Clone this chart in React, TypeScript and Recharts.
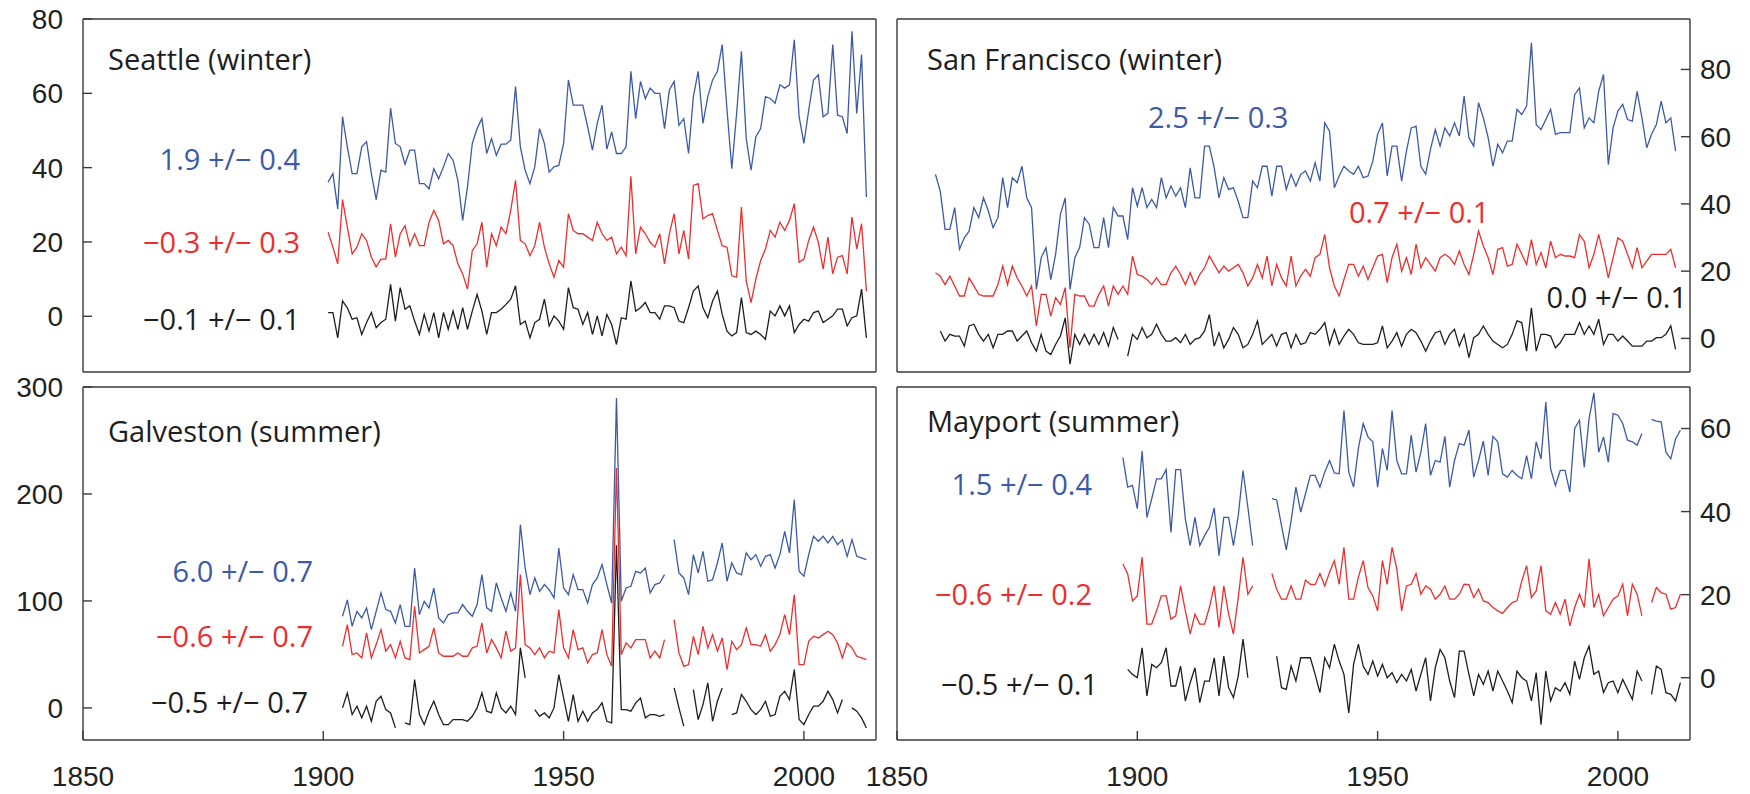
import { LineChart, Line, XAxis, YAxis } from "recharts";

const BLUE = "#3c5aa8";
const RED = "#ee2d2d";
const BLACK = "#1e1e1e";
const FRAME = "#3a3a3a";
const FONT = "'Open Sans', sans-serif";
const TICK_FONT = "'Liberation Sans', Arial, sans-serif";

const yearTicks = [1850, 1900, 1950, 2000];

// Seattle (winter), 1901-2013
const seattleStart = 1901;
const seattleBlue = [
  36.1, 38.4, 28.9, 53.7, 45.6, 38.4, 38.4, 45.6, 47, 38.4,
  31.4, 39.3, 38.8, 56, 46.5, 45.6, 40.9, 44.7, 44.7, 35.7,
  35.7, 34.3, 39.7, 37, 40.2, 43.8, 42, 36.6, 25.8, 34.8,
  46.5, 50.5, 53.2, 43.8, 47.8, 43.3, 46.3, 46.3, 47.4, 61.8,
  45.6, 39.3, 35.7, 40.2, 50.5, 46.5, 38.8, 40.2, 40.6, 46.5,
  63.6, 56.8, 56.8, 56.8, 51, 44.7, 51.9, 56.8, 45, 49.6,
  43.8, 43.8, 45.6, 65.9, 53.2, 63.2, 58.6, 61.4, 60, 60,
  50.5, 60.9, 63.2, 51.4, 53.2, 43.8, 59.1, 65.9, 51.9, 59.1,
  63.6, 65.9, 73.1, 55.5, 39.7, 54.6, 71.3, 47.8, 39.3, 48.3,
  50.5, 59.1, 58.6, 57.3, 62.3, 61.4, 62.3, 74.4, 53.7, 46.5,
  55.5, 63.6, 65, 53.7, 54.6, 73.1, 54.1, 53.7, 49.2, 76.7,
  54.6, 70.4, 32.1,
];
const seattleRed = [
  22.6, 18.6, 14.1, 31.4, 24, 16.8, 18.6, 22.2, 20.4, 15.9,
  13.3, 15.4, 15.4, 24.9, 15.9, 22.2, 24.4, 19, 22.2, 19,
  19, 25.3, 28.5, 25.8, 19.5, 20.4, 19, 14.1, 11.4, 7.3,
  17.7, 19.5, 25.3, 13.2, 22.2, 19, 24, 22.2, 28.5, 36.6,
  20.4, 19.5, 16.3, 19, 25.3, 18.6, 14.1, 10.5, 15, 13.2,
  27.6, 23.1, 22.2, 22.2, 21.3, 20.4, 25.3, 22.2, 20.4, 21.3,
  16.8, 18.6, 16.3, 37.7, 16.8, 24, 22.2, 19.9, 18.6, 22.2,
  14.1, 22.2, 27.6, 16.8, 23.1, 15.4, 35.2, 35.7, 26.2, 27.1,
  27.6, 23.1, 19, 18.6, 10.9, 10.5, 29.4, 9.5, 3.7, 10,
  15, 18.1, 23.1, 21.3, 25.3, 23.1, 25.8, 30.3, 14.5, 15.4,
  20.4, 24, 19.9, 12.7, 21.3, 11.4, 15.9, 16.3, 11.4, 26.7,
  18.1, 24.9, 6.8,
];
const seattleBlack = [
  1, 1, -5.8, 4.1, 2.3, -0.8, -0.4, -4.9, -1.7, 1,
  -3.1, -1.7, -0.8, 8.6, -1.3, 7.7, 1.9, 2.8, -1.3, -4.9,
  0.5, -4, 1, -5.8, 1, -3.5, 1.4, -3.5, 2.3, -3.5,
  1.4, 5.9, 1.4, -4.9, 1, 1, 1.9, 3.2, 4.6, 8.2,
  -2.2, -1.3, -5.8, -1.7, -0.8, 4.6, -2.6, 0.1, -1.3, -3.5,
  7.7, 2.3, 1.9, -2.2, 1, -4.9, 0.1, -5.3, 0.5, -2.2,
  -7.6, -0.4, -0.8, 9.5, 1.4, 2.3, 3.7, 1, 1, -0.8,
  2.8, 2.8, 2.3, -1.3, -1.7, 2.3, 6.8, 8.2, 2.3, -0.4,
  4.1, 6.8, 0.5, -4, -5.3, -4.4, 5, -4.4, -4.9, -4,
  -4.9, -6.2, 1.4, 0.1, 2.8, 0.1, 2.8, -4.4, -2.2, -0.8,
  -1.3, 1, 1.4, -1.7, -0.8, 0.1, 1.9, 1.9, -2.6, -0.4,
  0.1, 7.3, -5.8,
];

// San Francisco (winter), blue/red from 1858, black from 1859
const sfStart = 1858;
const sfBlue = [
  48.8, 43.8, 32.4, 32.4, 38.9, 26.5, 29.9, 31.9, 38.9, 35.9,
  41.8, 37.9, 32.9, 35.9, 47.8, 38.9, 47.8, 46.3, 51.2, 41.8,
  38.9, 14.6, 24, 27, 17.5, 25, 36.9, 41.8, 14.6, 24,
  27, 35.9, 33.9, 27, 27, 35.9, 27, 38.9, 36.4, 36.4,
  29.4, 44.8, 39.3, 44.8, 38.9, 41.3, 38.9, 47.8, 41.8, 45.3,
  42.3, 44.8, 38.9, 50.7, 41.8, 41.8, 57.2, 57.2, 50.7, 41.8,
  47.8, 44.3, 44.8, 40.8, 35.9, 35.9, 46.8, 44.8, 51.2, 51.2,
  42.3, 51.2, 51.2, 44.3, 48.8, 45.3, 48.8, 49.8, 46.8, 52.2,
  46.8, 64.1, 61.6, 44.8, 48.3, 51.2, 49.8, 48.8, 51.2, 47.8,
  48.3, 52.7, 60.7, 64.1, 48.3, 57.2, 57.2, 46.8, 55.7, 62.6,
  63.1, 51.2, 48.8, 56.2, 62.1, 57.2, 62.6, 60.2, 64.1, 60.2,
  72.1, 59.7, 57.2, 70.1, 65.6, 59.7, 51.2, 57.7, 55.2, 58.7,
  58.7, 68.1, 66.6, 69.1, 87.9, 63.6, 62.1, 65.1, 68.1, 60.7,
  61.2, 61.2, 61.2, 72.5, 74.5, 62.6, 65.6, 64.1, 73.5, 78.5,
  51.7, 62.6, 67.6, 69.6, 65.1, 64.6, 73.5, 65.6, 56.7, 60.7,
  63.6, 70.6, 64.1, 65.6, 55.7,
];
const sfRed = [
  19.5, 18.5, 16, 18.5, 15.6, 12.6, 12.6, 18, 15.6, 13.1,
  12.6, 12.6, 12.6, 16, 21.5, 16, 21.5, 18, 15.6, 12.6,
  15.6, 3.7, 13.1, 13.1, 6.6, 12.1, 10.1, 15.1, -2.8, 13.1,
  12.6, 12.6, 9.6, 9.6, 13.1, 15.6, 9.6, 15.6, 13.1, 15.6,
  13.1, 24.5, 19, 18.5, 17.5, 16, 18, 16, 16, 19.5,
  21.5, 19, 16, 19.5, 16, 19, 21, 24.5, 22, 19.5,
  21.5, 20, 21, 22, 19.5, 15.6, 18, 22, 18, 24.5,
  15.6, 22, 18, 15.6, 24.5, 15.6, 18.5, 20.5, 18.5, 24,
  25, 30.9, 21, 15.6, 12.6, 17.5, 22, 22, 18.5, 21.5,
  17.5, 21, 24.5, 25, 16.6, 24, 28, 20, 24, 19,
  28, 21, 24, 22, 20, 24, 25, 24, 22, 26,
  22, 19, 25, 31.9, 27.5, 24, 19, 26.5, 27, 21.5,
  22, 28, 25, 22, 29.4, 22, 25.5, 21, 28.9, 24,
  25, 24.5, 24.5, 24, 30.9, 28.9, 21, 25, 30.9, 25,
  18, 24, 29.9, 28.9, 25, 21, 27, 21, 23, 25,
  25, 25, 25, 26.5, 21,
];
const sfBlackStart = 1859;
const sfBlack = [
  2.2, -0.8, 1.2, 0.7, 0.7, -2.3, 3.7, 4.2, 1.2, -0.8,
  1.2, -2.8, 1.2, 1.2, 2.2, 2.2, -0.8, 0.7, 2.2, -1.3,
  -3.8, 1.2, -3.8, -4.8, -1.8, 0.7, 6.1, -7.7, 1.2, -1.8,
  1.2, -1.8, 1.2, -1.8, 1.7, -2.3, 3.2, -0.3, null,
  -5.3, 1.2, -0.3, 3.2, 0.2, 1.2, 4.2, 1.2, -0.8, -0.8,
  0.2, -1.3, 1.2, -1.8, -0.3, 0.2, 2.2, 7.1, -2.3, 1.7,
  -2.8, -0.3, 3.2, 1.2, -2.8, -1.8, 1.2, 5.2, -1.8, -0.3,
  1.2, -2.3, 1.2, 1.7, -2.8, 1.2, -1.8, -1.3, 1.7, 1.2,
  2.7, 4.7, -1.8, 2.7, -1.8, 0.7, 2.7, 1.2, -1.3, -1.8,
  -1.8, -1.8, -1.3, 3.7, -2.8, -0.8, 1.7, -2.3, 1.2, 2.7,
  1.7, -0.8, -3.8, -0.8, 1.7, 2.2, -1.8, 1.2, 2.7, -2.3,
  1.2, -5.7, 0.2, 1.2, 3.7, 1.2, -0.8, -1.8, -2.8, -1.8,
  1.2, 5.2, 4.7, -3.8, 9.1, -3.8, 1.2, 1.2, 0.7, -2.8,
  -1.3, 1.2, 1.2, 1.2, 4.7, 1.2, 3.7, 1.2, 5.7, -1.8,
  1.2, 1.2, -0.8, 0.7, -0.8, -2.3, -2.3, -2.3, -0.8, -0.8,
  0.2, 0.2, 1.2, 3.7, -3.3,
];

// Galveston (summer), 1904-2013
const galvStart = 1904;
const galvBlue = [
  85.7, 101, 76.3, 90.3, 84.1, 93.5, 73.2,
  90.3, 107.5, 91.9, 90.3, 79.4, 96.6, 76.3, 76.3, 130.8, 87.2,
  99.7, 93.5, 112.1, 84.1, 79.4, 87.2, 88.8, 88.8, 96.6, 90.3,
  85.7, 96.6, 124.6, 93.5, 90.3, 116.8, 102.8, 90.3, 107.5, 90.3,
  171.3, 130.8, 105.9, 121.5, 109, 115.3, 110.6, 102.8, 149.5, 112.1,
  105.9, 124.6, 110.6, 110.6, 98.1, 115.3, 121.5, 134, 115.3, 98.1,
  289.7, 99.7, 112.1, 113.7, 127.7, 126.2, 130.8, 107.5, 115.3, 116.8,
  124.6, null, 157.3, 126.2, 121.5, 105.9, 143.3, 126.2, 146.4, 118.4,
  119.9, 135.5, 154.2, 118.4, 135.5, 126.2, 124.6, 144.9, 138.6, 143.3,
  132.4, 141.7, 143.3, 130.8, 143.3, 165.1, 144.9, 194.7, 127.7, 123.1,
  143.3, 160.4, 155.8, 160.4, 154.2, 160.4, 152.6, 157.3, 141.7, 157.3,
  141.7, 140.2, 138.6,
];
const galvRed = [
  57.6, 77.9, 49.8, 51.4, 46.7, 70.1, 46.7,
  59.2, 73.2, 53, 59.2, 46.7, 62.3, 46.7, 45.2, 95, 51.4,
  54.5, 57.6, 74.8, 51.4, 48.3, 48.3, 48.3, 51.4, 48.3, 48.3,
  56.1, 57.6, 79.4, 51.4, 63.9, 56.1, 46.7, 71.7, 53, 56.1,
  124.6, 59.2, 56.1, 49.8, 56.1, 46.7, 53, 51.4, 91.9, 56.1,
  46.7, 73.2, 54.5, 56.1, 42.1, 49.8, 51.4, 73.2, 49.8, 38.9,
  224.3, 49.8, 60.7, 56.1, 63.9, 63.9, 63.9, 46.7, 53, 46.7,
  63.9, null, 82.6, 51.4, 38.9, 40.5, 67, 49.8, 76.3, 56.1,
  68.5, 53, 65.4, 35.8, 62.3, 54.5, 59.2, 74.8, 59.2, 59.2,
  57.6, 68.5, 53, 59.2, 68.5, 87.2, 68.5, 105.9, 40.5, 40.5,
  62.3, 67, 65.4, 68.5, 71.7, 68.5, 60.7, 46.7, 60.7, 56.1,
  48.3, 46.7, 45.2,
];
const galvBlack = [
  0, 14, -6.2, 1.6, -9.3, 1.6, -12.5,
  6.2, 10.9, -1.6, -4.7, -18.7, null, -14, -15.6, 26.5, -6.2,
  -15.6, -3.1, 6.2, -6.2, -15.6, -15.6, -10.9, -10.9, -10.9, -12.5,
  -7.8, 0, 14, -3.1, -4.7, 14, 0, -4.7, 1.6, -6.2,
  56.1, 28, null, -1.6, -7.8, -4.7, -9.3, 0, 31.2, 9.3,
  -12.5, 12.5, -12.5, -3.1, -12.5, -4.7, -1.6, 4.7, -12.5, -14,
  152, -1.6, -1.6, -3.1, 4.7, 9.3, -9.3, -6.2, -6.2, -7.8,
  -6.2, null, 18.7, 0, -17.1, null, 17.1, -10.9, 3.1, 23.4,
  -12.5, 6.2, 18.7, null, -6.2, -4.7, 12.5, 6.2, -1.6, -6.2,
  -1.6, 6.2, -7.8, -6.2, 10.9, 15.6, 7.8, 35.8, -10.9, -15.6,
  -6.2, 1.6, 1.6, 6.2, 15.6, 7.8, -4.7, 7.8, null, 0,
  -3.1, -9.3, -18.7,
];

// Mayport (summer), blue/red from 1897, black from 1898
const mayStart = 1897;
const mayBlue = [
  53, 45.9, 46.3, 40.7,
  54.6, 38.6, 43.1, 47.9, 47.9, 50.1, 35, 50.1, 50.1, 38.2,
  31.8, 38.6, 31.8, 34.2, 36.2, 40.9, 29.4, 38.6, 38.6, 31.8,
  39, 49.9, 41.1, 31.8, null, null, null, 43.1, 42.8, 36.6,
  30.8, 37.8, 45.9, 39.9, 44.3, 48.7, 48.7, 45.9, 49.5, 52.3,
  49.3, 49.1, 64.3, 49.5, 45.9, 55.2, 61.2, 58, 56.8, 45.9,
  55.2, 49.9, 64.3, 52.3, 49.1, 49.1, 58.4, 49.5, 54.3, 61.2,
  48.7, 52.3, 51.9, 58.1, 45.9, 52.3, 56.4, 56, 59.6, 48.3,
  52.3, 57, 48.7, 58.1, 56.8, 49.1, 48.3, 49.9, 48.7, 47.9,
  53.5, 47.9, 56.8, 52.7, 66.4, 50.3, 46.3, 49.9, 49.9, 44.7,
  60, 62, 50.7, 62.4, 68.6, 54.3, 58, 51.9, 63.6, 63.2,
  61.2, 57.2, 56.8, 56, 58.8, null, 62.2, 61.8, 61.6, 54.3,
  52.7, 57.5, 59.6,
];
const mayRed = [
  27.4, 25, 18.5, 19.7,
  29, 12.9, 12.9, 16.1, 19.7, 19.7, 14.1, 14.9, 22.1, 16.1,
  10.5, 15.3, 12.9, 12.9, 16.9, 22.1, 12.1, 22.1, 15.3, 10.5,
  19.3, 29, 20.1, 22.1, null, null, null, 25.1, 21.3, 18.9,
  18.9, 22.1, 18.9, 18.9, 23.5, 22.5, 22.4, 25.1, 22.1, 25.4,
  28.2, 22.5, 31.4, 18.9, 18.9, 24.2, 28.2, 21.7, 19.7, 16.1,
  28.2, 22.5, 31.4, 26.2, 16.1, 22.1, 22.5, 25.1, 20.1, 22.1,
  21.3, 18.9, 20.1, 22.1, 18.9, 18.9, 20.1, 22.5, 22.4, 19.3,
  21.3, 18.5, 18.1, 16.9, 16.1, 15.5, 16.9, 18.1, 18.5, 23.3,
  27, 19.3, 20.9, 27, 16.1, 15.3, 18.1, 15.3, 18.9, 12.5,
  16.9, 20.1, 16.9, 28.6, 16.9, 20.1, 14.9, 16.9, 18.9, 19.7,
  22.5, 14.9, 22.5, 20.1, 14.9, null, 18.1, 21.7, 20.5, 20.1,
  16.5, 16.9, 20.1,
];
const mayBlackStart = 1898;
const mayBlack = [
  2, 0.8, 0,
  7.2, -4.4, 3.2, 2.4, 3.6, 7.2, -2, -2, 2.8, -5.6,
  -1.2, 2.4, -6, -0.8, -0.8, 4.8, -4.4, 5.2, -2.4, -4.8,
  0.4, 9.3, 0, null, null, null, null, null, 5.2, -2.4,
  -2.8, 2.8, -0.8, 4.8, 4.8, 4.8, 0.8, -3.6, 4.8, 2.4,
  8.1, 4, 0.8, -8.5, 3.2, 8.1, 2.8, 0.8, 4, 0.4,
  3.2, 0, 1.2, -1.2, 0.8, -0.8, 2, -3.2, 0.8, 4.8,
  -5.6, 2.4, 6.8, 4.8, -0.8, -4.8, 6.4, 6.4, 0.8, -4.4,
  0.8, -1.6, 1.6, -3.2, 1.6, -0.8, -3.2, -6, 1.6, 0,
  -0.8, -5.6, 1.2, -11.3, 1.6, -5.6, -2.4, -3.2, -1.2, -4,
  4, -0.4, 4.8, 7.6, 0.8, 1.6, -3.6, -1.2, -0.8, -3.6,
  -0.4, -2.8, -5.2, 1.6, -0.8, null, -4, 2.8, 2, -3.6,
  -4, -5.6, -1.2,
];

type Vals = (number | null)[];

function pick(start: number, values: Vals, year: number) {
  const v = values[year - start];
  return v === undefined ? null : v;
}

function makeRows(
  blue: [number, Vals],
  red: [number, Vals],
  black: [number, Vals]
) {
  const rows = [];
  for (let year = 1850; year <= 2015; year++) {
    rows.push({
      year,
      blue: pick(blue[0], blue[1], year),
      red: pick(red[0], red[1], year),
      black: pick(black[0], black[1], year),
    });
  }
  return rows;
}

const seattleRows = makeRows([seattleStart, seattleBlue], [seattleStart, seattleRed], [seattleStart, seattleBlack]);
const sfRows = makeRows([sfStart, sfBlue], [sfStart, sfRed], [sfBlackStart, sfBlack]);
const galvRows = makeRows([galvStart, galvBlue], [galvStart, galvRed], [galvStart, galvBlack]);
const mayRows = makeRows([mayStart, mayBlue], [mayStart, mayRed], [mayBlackStart, mayBlack]);

const W = 1750;
const H = 794;

interface PanelProps {
  rows: any[];
  box: [number, number, number, number]; // left, top, right, bottom of plot frame
  yDomain: [number, number];
  yTicks: number[];
  labelSide: "left" | "right";
  showYears: boolean;
}

function Panel({ rows, box, yDomain, yTicks, labelSide, showYears }: PanelProps) {
  const [l, t, r, b] = box;
  const tickStyle = { fill: "#222", fontSize: 28, fontFamily: TICK_FONT };
  const line = { stroke: FRAME, strokeWidth: 1.4 };
  return (
    <div style={{ position: "absolute", left: 0, top: 0 }}>
      <LineChart
        width={W}
        height={H}
        data={rows}
        margin={{ top: t - 1, bottom: H - b - 1, left: l - 1, right: W - r - 1 }}
      >
        <XAxis
          xAxisId="b"
          dataKey="year"
          type="number"
          orientation="bottom"
          domain={[1850, 2015]}
          ticks={yearTicks}
          interval={0}
          height={1}
          tickSize={-9}
          tickMargin={35}
          axisLine={line}
          tickLine={line}
          tick={showYears ? tickStyle : false}
          allowDataOverflow
        />
        <XAxis
          xAxisId="t"
          dataKey="year"
          type="number"
          orientation="top"
          domain={[1850, 2015]}
          ticks={yearTicks}
          interval={0}
          height={1}
          tickSize={-9}
          axisLine={line}
          tickLine={line}
          tick={false}
          allowDataOverflow
        />
        <YAxis
          yAxisId="l"
          orientation="left"
          type="number"
          domain={yDomain}
          ticks={yTicks}
          interval={0}
          width={1}
          tickSize={-9}
          tickMargin={29}
          axisLine={line}
          tickLine={line}
          tick={labelSide === "left" ? tickStyle : false}
          allowDataOverflow
        />
        <YAxis
          yAxisId="r"
          orientation="right"
          type="number"
          domain={yDomain}
          ticks={yTicks}
          interval={0}
          width={1}
          tickSize={-9}
          tickMargin={19}
          axisLine={line}
          tickLine={line}
          tick={labelSide === "right" ? tickStyle : false}
          allowDataOverflow
        />
        <Line xAxisId="b" yAxisId="l" type="linear" dataKey="blue" stroke={BLUE} strokeWidth={1.3} dot={false} isAnimationActive={false} />
        <Line xAxisId="b" yAxisId="l" type="linear" dataKey="red" stroke={RED} strokeWidth={1.3} dot={false} isAnimationActive={false} />
        <Line xAxisId="b" yAxisId="l" type="linear" dataKey="black" stroke={BLACK} strokeWidth={1.3} dot={false} isAnimationActive={false} />
      </LineChart>
    </div>
  );
}

const labels: { text: string; x: number; y: number; color: string; anchor: "start" | "end" }[] = [
  { text: "Seattle (winter)", x: 108, y: 70, color: BLACK, anchor: "start" },
  { text: "1.9 +/− 0.4", x: 300, y: 170, color: BLUE, anchor: "end" },
  { text: "−0.3 +/− 0.3", x: 300, y: 253, color: RED, anchor: "end" },
  { text: "−0.1 +/− 0.1", x: 300, y: 330, color: BLACK, anchor: "end" },
  { text: "San Francisco (winter)", x: 927, y: 70, color: BLACK, anchor: "start" },
  { text: "2.5 +/− 0.3", x: 1148, y: 128, color: BLUE, anchor: "start" },
  { text: "0.7 +/− 0.1", x: 1349, y: 223, color: RED, anchor: "start" },
  { text: "0.0 +/− 0.1", x: 1687, y: 308, color: BLACK, anchor: "end" },
  { text: "Galveston (summer)", x: 108, y: 442, color: BLACK, anchor: "start" },
  { text: "6.0 +/− 0.7", x: 313, y: 582, color: BLUE, anchor: "end" },
  { text: "−0.6 +/− 0.7", x: 313, y: 647, color: RED, anchor: "end" },
  { text: "−0.5 +/− 0.7", x: 308, y: 713, color: BLACK, anchor: "end" },
  { text: "Mayport (summer)", x: 927, y: 432, color: BLACK, anchor: "start" },
  { text: "1.5 +/− 0.4", x: 1092, y: 495, color: BLUE, anchor: "end" },
  { text: "−0.6 +/− 0.2", x: 1092, y: 605, color: RED, anchor: "end" },
  { text: "−0.5 +/− 0.1", x: 1098, y: 695, color: BLACK, anchor: "end" },
];

export default function App() {
  return (
    <div style={{ position: "absolute", left: 0, top: 0, width: W, height: H, background: "#fff" }}>
      <Panel rows={seattleRows} box={[83, 19, 876, 372]} yDomain={[-15, 80]} yTicks={[0, 20, 40, 60, 80]} labelSide="left" showYears={false} />
      <Panel rows={sfRows} box={[897, 19, 1690, 372]} yDomain={[-10, 95]} yTicks={[0, 20, 40, 60, 80]} labelSide="right" showYears={false} />
      <Panel rows={galvRows} box={[83, 387, 876, 740]} yDomain={[-30, 300]} yTicks={[0, 100, 200, 300]} labelSide="left" showYears />
      <Panel rows={mayRows} box={[897, 387, 1690, 740]} yDomain={[-15, 70]} yTicks={[0, 20, 40, 60]} labelSide="right" showYears />
      <svg width={W} height={H} style={{ position: "absolute", left: 0, top: 0 }}>
        {labels.map((d) => (
          <text key={d.text + d.y} x={d.x} y={d.y} fill={d.color} textAnchor={d.anchor} fontSize={29} fontFamily={FONT}>
            {d.text}
          </text>
        ))}
      </svg>
    </div>
  );
}
